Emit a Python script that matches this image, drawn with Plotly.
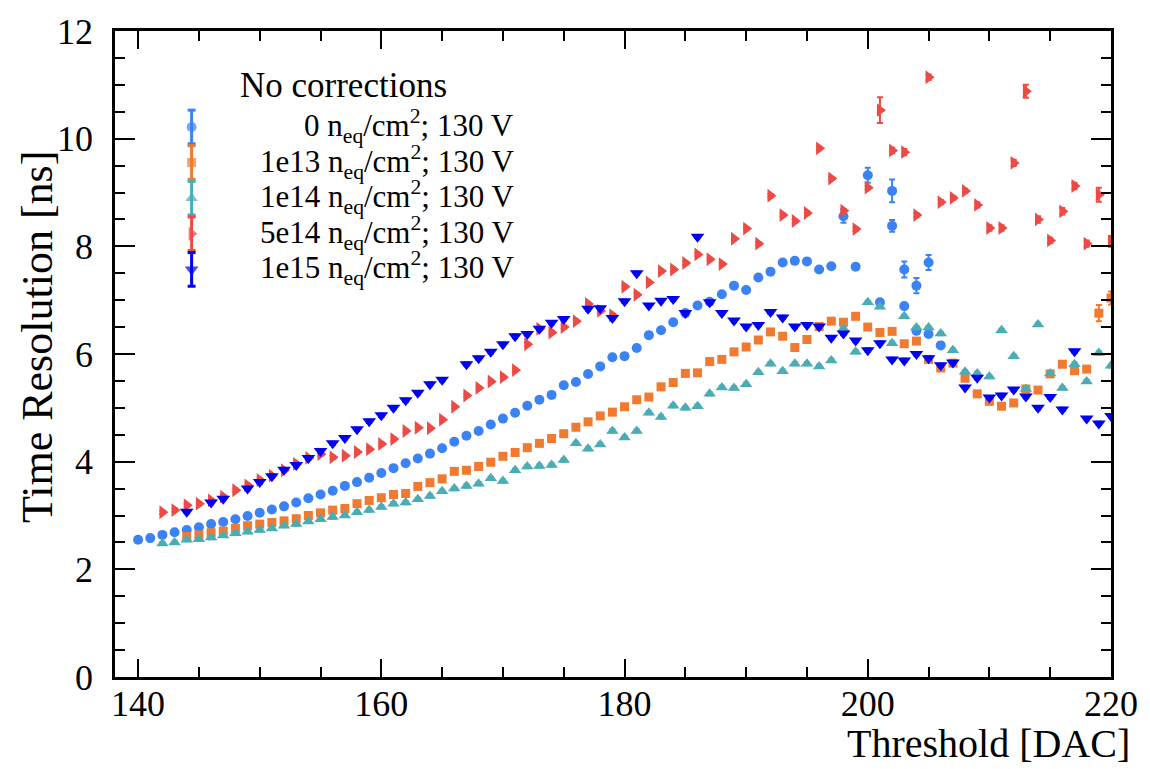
import plotly.graph_objects as go

# ---------------- data ----------------
x_0 = list(range(140, 202)) + [202, 202, 203, 203, 204, 204, 205, 205, 206]
y_0 = [2.55, 2.58, 2.64, 2.69, 2.73, 2.78, 2.84, 2.88, 2.93, 2.99,
       3.05, 3.11, 3.17, 3.24, 3.32, 3.39, 3.46, 3.55, 3.62, 3.70,
       3.79, 3.88, 3.97, 4.06, 4.15, 4.25, 4.37, 4.48, 4.57, 4.69,
       4.80, 4.91, 5.04, 5.15, 5.24, 5.42, 5.48, 5.63, 5.77, 5.94,
       5.96, 6.11, 6.35, 6.44, 6.59, 6.76, 6.90, 6.97, 7.11, 7.27,
       7.19, 7.42, 7.53, 7.70, 7.73, 7.72, 7.57, 7.63, 8.56, 7.62,
       9.32, 6.96,
       9.03, 8.38, 7.57, 6.89, 7.27, 6.43, 7.70, 6.37, 6.16]
e_0 = [0.03] * 58 + [0.12, 0.03, 0.14, 0.05, 0.21, 0.11, 0.15, 0.05, 0.14, 0.05, 0.14, 0.05, 0.05]

x_1e13 = list(range(144, 221))
y_1e13 = [2.61, 2.64, 2.68, 2.71, 2.76, 2.81, 2.84, 2.87, 2.90, 2.94,
          3.00, 3.05, 3.10, 3.13, 3.22, 3.28, 3.33, 3.39, 3.41, 3.54,
          3.61, 3.68, 3.82, 3.84, 3.91, 3.99, 4.10, 4.17, 4.26, 4.34,
          4.43, 4.52, 4.64, 4.74, 4.85, 4.92, 5.02, 5.15, 5.20, 5.39,
          5.47, 5.64, 5.65, 5.86, 5.90, 6.04, 6.13, 6.26, 6.41, 6.33,
          6.12, 6.27, 6.51, 6.61, 6.59, 6.70, 6.50, 6.40, 6.42, 6.19,
          6.24, 5.90, 5.74, 5.83, 5.55, 5.26, 5.12, 5.03, 5.09, 5.35,
          5.33, 5.63, 5.81, 5.69, 5.72, 6.76, 7.04]
e_1e13 = [0.03] * 75 + [0.15, 0.12]

x_1e14 = list(range(142, 221))
y_1e14 = [2.48, 2.50, 2.55, 2.56, 2.59, 2.63, 2.67, 2.70, 2.73, 2.76,
          2.81, 2.84, 2.89, 2.93, 2.97, 3.00, 3.06, 3.10, 3.16, 3.22,
          3.24, 3.30, 3.36, 3.45, 3.50, 3.55, 3.59, 3.69, 3.64, 3.84,
          3.91, 3.92, 3.94, 4.03, 4.34, 4.24, 4.32, 4.57, 4.45, 4.57,
          4.91, 4.83, 5.04, 5.00, 5.03, 5.26, 5.38, 5.37, 5.44, 5.66,
          5.82, 5.68, 5.82, 5.82, 5.77, 5.88, 6.47, 6.04, 6.96, 6.88,
          6.20, 6.70, 6.49, 6.49, 6.38, 6.07, 5.67, 5.64, 5.58, 6.44,
          5.96, 5.35, 6.55, 5.64, 5.37, 5.81, 5.49, 6.02, 5.78]
e_1e14 = [0.03] * 79

x_5e14 = list(range(142, 221))
y_5e14 = [3.06, 3.10, 3.19, 3.22, 3.28, 3.35, 3.47, 3.56, 3.66, 3.74,
          3.84, 3.96, 4.07, 4.14, 4.08, 4.11, 4.18, 4.23, 4.33, 4.42,
          4.57, 4.63, 4.62, 4.78, 5.02, 5.23, 5.37, 5.49, 5.57, 5.70,
          6.18, 6.47, 6.40, 6.50, 6.61, 6.93, 6.80, 6.72, 7.25, 7.10,
          7.33, 7.54, 7.57, 7.69, 7.85, 7.76, 7.67, 8.14, 8.33, 8.05,
          8.94, 8.58, 8.47, 8.62, 9.82, 9.26, 8.66, 8.32, 9.09, 10.53,
          9.78, 9.75, 8.58, 11.14, 8.82, 8.90, 9.03, 8.77, 8.34, 8.34,
          9.55, 10.88, 8.50, 8.11, 8.65, 9.12, 8.05, 8.96, 8.09]
e_5e14 = ([0.03] * 59 + [0.24, 0.05, 0.06, 0.04, 0.05, 0.04, 0.04, 0.04, 0.05, 0.05, 0.05,
                          0.06, 0.12, 0.06, 0.05, 0.06, 0.06, 0.06, 0.13, 0.10])

x_1e15 = [144, 146, 147] + list(range(149, 166)) + list(range(167, 176)) + list(range(177, 221))
y_1e15 = [3.07, 3.24, 3.31,
          3.50, 3.62, 3.73, 3.85, 3.94, 4.07, 4.20, 4.34, 4.44, 4.60,
          4.75, 4.86, 5.00, 5.14, 5.28, 5.44, 5.52,
          5.81, 5.92, 6.04, 6.18, 6.33, 6.37, 6.47, 6.58, 6.65,
          6.84, 6.85, 6.67, 6.98, 7.50, 6.90, 6.99, 7.02, 6.76, 8.18,
          6.96, 6.76, 6.62, 6.51, 6.54, 6.78, 6.68, 6.51, 6.54, 6.51,
          6.30, 6.38, 6.25, 6.07, 6.20, 5.90, 5.88, 6.00, 5.92, 5.79,
          5.84, 5.38, 5.56, 5.19, 5.23, 5.34, 5.21, 5.00, 5.20, 4.97,
          6.05, 4.80, 4.71, 4.85]
e_1e15 = [0.03] * len(y_1e15)

labels = ["0 n<sub>eq</sub>/cm<sup>2</sup>; 130 V",
          "1e13 n<sub>eq</sub>/cm<sup>2</sup>; 130 V",
          "1e14 n<sub>eq</sub>/cm<sup>2</sup>; 130 V",
          "5e14 n<sub>eq</sub>/cm<sup>2</sup>; 130 V",
          "1e15 n<sub>eq</sub>/cm<sup>2</sup>; 130 V"]
legend_title = "No corrections"
x_ticks = [140, 160, 180, 200, 220]
y_ticks = [0, 2, 4, 6, 8, 10, 12]
x_title = "Threshold [DAC]"
y_title = "Time Resolution [ns]"

# ---------------- style ----------------
colors = ["#3B82F6", "#F07A30", "#4AADB5", "#EE4A45", "#0000F2"]
symbols = ["circle", "square", "triangle-up", "triangle-right", "triangle-down"]
sizes = [10, 9, 11, 12, 12]
FONT = "Liberation Serif"

series = [(x_0, y_0, e_0), (x_1e13, y_1e13, e_1e13), (x_1e14, y_1e14, e_1e14),
          (x_5e14, y_5e14, e_5e14), (x_1e15, y_1e15, e_1e15)]

fig = go.Figure()
for (xs, ys, es), c, s, sz, lab in zip(series, colors, symbols, sizes, labels):
    fig.add_trace(go.Scatter(
        x=xs, y=ys, mode="markers", name=lab, showlegend=False,
        marker=dict(symbol=s, size=sz, color=c, line=dict(width=0)),
        error_y=dict(type="data", array=es, visible=True, color=c, thickness=2, width=3),
    ))

# ---------------- custom legend (ROOT style, right-aligned text) ----------------
PL, PR, PT, PB = 115, 1116, 24, 677
W, H = PR - PL, PB - PT
def px(xp):
    return (xp - PL) / W
def py(yp):
    return (PB - yp) / H

leg_x = px(192)
row_h = 36
first_c = 121
centers = [first_c + i * row_h for i in range(len(labels))]
fig.add_trace(go.Scatter(
    x=[leg_x] * len(labels), y=[py(c) for c in centers], xaxis="x2", yaxis="y2",
    mode="markers", showlegend=False, hoverinfo="skip",
    marker=dict(symbol=symbols, size=sizes, color=colors, line=dict(width=0)),
))
shapes = []
for c, col in zip(centers, colors):
    y_top, y_bot = py(c - row_h / 2 + 1), py(c + row_h / 2 - 1)
    shapes.append(dict(type="line", xref="paper", yref="paper", x0=leg_x, x1=leg_x,
                       y0=y_bot, y1=y_top, line=dict(color=col, width=3)))
    for yy in (y_top, y_bot):
        shapes.append(dict(type="line", xref="paper", yref="paper", x0=px(188), x1=px(196),
                           y0=yy, y1=yy, line=dict(color=col, width=3)))

annotations = [dict(text=legend_title, x=px(345), y=py(79), xref="paper", yref="paper",
                    showarrow=False, xanchor="center", yanchor="middle",
                    font=dict(family=FONT, size=35, color="black"))]
for c, lab in zip(centers, labels):
    annotations.append(dict(text=lab, x=px(518), y=py(c - 1), xref="paper", yref="paper",
                            showarrow=False, xanchor="right", yanchor="middle",
                            font=dict(family=FONT, size=31, color="black")))
annotations.append(dict(text=x_title, x=px(1137), y=py(744), xref="paper", yref="paper",
                        showarrow=False, xanchor="right", yanchor="middle",
                        font=dict(family=FONT, size=40, color="black")))
annotations.append(dict(text=y_title, x=px(37), y=py(333), xref="paper", yref="paper",
                        showarrow=False, xanchor="center", yanchor="middle", textangle=-90,
                        font=dict(family=FONT, size=44, color="black")))

axis_common = dict(showline=True, linecolor="black", linewidth=2.5, mirror="ticks",
                   ticks="inside", tickcolor="black", tickwidth=2, showgrid=False,
                   zeroline=False, tickfont=dict(family=FONT, size=36, color="black"))

fig.update_layout(
    width=1150, height=769,
    margin=dict(l=PL, r=1150 - PR, t=PT, b=769 - PB),
    paper_bgcolor="white", plot_bgcolor="white",
    xaxis=dict(range=[138.1, 220], tickvals=x_ticks, ticklen=18,
               minor=dict(dtick=5, tick0=140, ticks="inside", ticklen=10, tickcolor="black", tickwidth=2),
               ticklabelstandoff=-7, **axis_common),
    yaxis=dict(range=[0, 12], tickvals=y_ticks, ticklen=20,
               minor=dict(dtick=0.5, tick0=0, ticks="inside", ticklen=10, tickcolor="black", tickwidth=2),
               ticklabelstandoff=12, **axis_common),
    xaxis2=dict(range=[0, 1], overlaying="x", visible=False, fixedrange=True),
    yaxis2=dict(range=[0, 1], overlaying="y", visible=False, fixedrange=True),
    shapes=shapes, annotations=annotations, showlegend=False,
)

fig.write_html("out.html")
